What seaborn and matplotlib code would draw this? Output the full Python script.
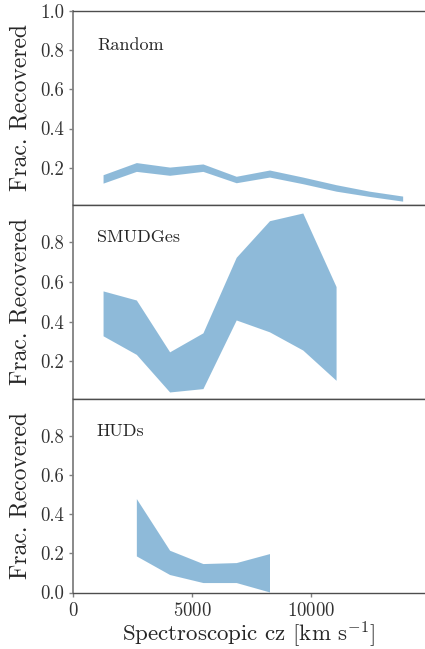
import seaborn as sns
import matplotlib.pyplot as plt
import numpy as np

# Bin centres in cz (km/s)
cz = [1260, 2660, 4060, 5460, 6860, 8260, 9660, 11060, 12460, 13860]

# Recovered fraction bands (lower, upper) read per bin
random_lo = [0.121, 0.181, 0.161, 0.181, 0.123, 0.152, 0.118, 0.080, 0.053, 0.029]
random_hi = [0.164, 0.226, 0.203, 0.219, 0.156, 0.188, 0.152, 0.113, 0.080, 0.055]

smudges_cz = cz[:8]
smudges_lo = [0.328, 0.234, 0.044, 0.061, 0.408, 0.348, 0.256, 0.103]
smudges_hi = [0.555, 0.509, 0.247, 0.343, 0.725, 0.910, 0.949, 0.577]

huds_cz = cz[1:6]
huds_lo = [0.187, 0.092, 0.051, 0.051, 0.003]
huds_hi = [0.480, 0.216, 0.148, 0.153, 0.199]

panel_names = ["Random", "SMUDGes", "HUDs"]

sns.set_style("white")
plt.rcParams["font.family"] = "serif"
plt.rcParams["font.serif"] = ["cmr10", "DejaVu Serif"]
plt.rcParams["mathtext.fontset"] = "cm"
plt.rcParams["axes.formatter.use_mathtext"] = True

fig, axes = plt.subplots(3, 1, figsize=(4.25, 6.49), dpi=100, sharex=True)
fig.subplots_adjust(left=0.172, right=1.0, top=0.983, bottom=0.087, hspace=0)

bands = [
    (cz, random_lo, random_hi),
    (smudges_cz, smudges_lo, smudges_hi),
    (huds_cz, huds_lo, huds_hi),
]
ylims = [(0.01, 1.0), (0.01, 0.99), (0.0, 0.99)]
yticks = [[0.2, 0.4, 0.6, 0.8, 1.0], [0.2, 0.4, 0.6, 0.8], [0.0, 0.2, 0.4, 0.6, 0.8]]

for ax, (x, lo, hi), name, yl, yt in zip(axes, bands, panel_names, ylims, yticks):
    ax.fill_between(x, lo, hi, color="C0", alpha=0.5, linewidth=0)
    ax.set_ylim(*yl)
    ax.set_yticks(yt)
    ax.set_yticklabels([f"{t:.1f}" for t in yt])
    ax.set_ylabel("Frac. Recovered", fontsize=17, labelpad=6)
    ax.text(1000, 0.8, name, fontsize=13, va="baseline")
    ax.spines["right"].set_visible(False)
    ax.spines["left"].set_color("0.5")
    ax.spines["left"].set_linewidth(1.3)
    for s in ["top", "bottom"]:
        ax.spines[s].set_color("0.3")
        ax.spines[s].set_linewidth(1.0)
    ax.tick_params(axis="both", direction="out", length=3, width=1, color="0.5",
                   labelsize=13.5, left=True, bottom=True, labelcolor="0.2")

axes[-1].set_xlim(0, 14800)
axes[-1].set_xticks([0, 5000, 10000])
axes[-1].set_xlabel(r"Spectroscopic cz [km s$^{-1}$]", fontsize=16.5, labelpad=0)
for ax in axes[:-1]:
    ax.tick_params(axis="x", bottom=False)

plt.savefig("out.png", dpi=100)
